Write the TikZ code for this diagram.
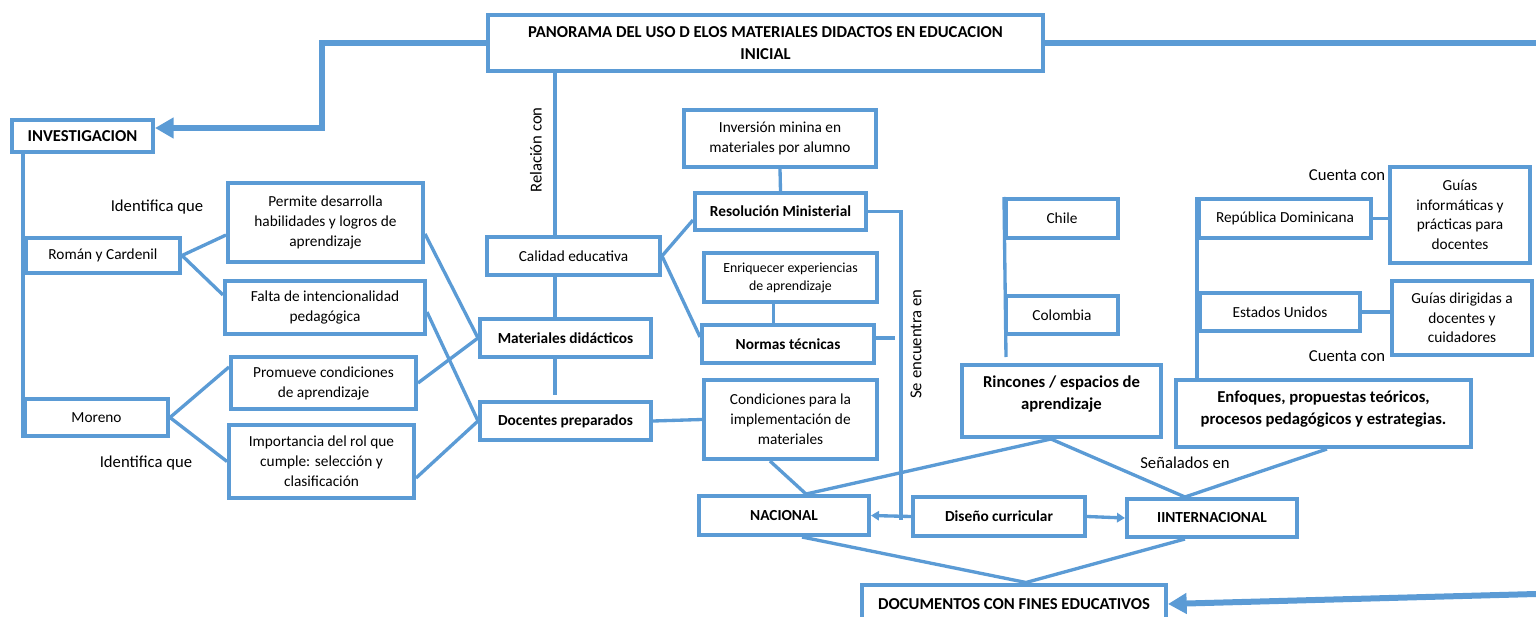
\documentclass[tikz,border=0pt]{standalone}
\usepackage{fontspec}
\setmainfont{Carlito}
\usepackage{tikz}
\usetikzlibrary{arrows.meta}
\definecolor{mapblue}{RGB}{91,155,213}
\tikzset{
    box/.style={draw=mapblue, line width=3pt, align=center, inner sep=1pt, font=\fontsize{11.5}{15}\selectfont},
    sz/.style 2 args={minimum width=#1*0.75pt, minimum height=#2*0.75pt},
    hd/.style={font=\fontsize{11.5}{15}\selectfont\bfseries},
    bighd/.style={font=\fontsize{12.5}{16.5}\selectfont\bfseries},
    sm/.style={font=\fontsize{11.5}{14.6}\selectfont},
    link/.style={draw=mapblue, line width=2.5pt},
    bigarrow/.style={draw=mapblue, line width=4.5pt, -{Triangle[length=14pt, width=15pt]}},
    smallarrow/.style={draw=mapblue, line width=2.5pt, -{Triangle[length=6pt, width=7pt]}},
    note/.style={font=\fontsize{12.5}{15}\selectfont, inner sep=0pt}
}

\begin{document}
\begin{tikzpicture}[x=0.75pt, y=-0.75pt]
\useasboundingbox (0,0) rectangle (1536,617);

% Title and main branches
\node[box, bighd, sz={555}{56}] (title) at (765.5,43) {PANORAMA DEL USO D ELOS MATERIALES DIDACTOS EN EDUCACION\\INICIAL};
\node[box, bighd, sz={141}{32}] (inv) at (82.5,136) {INVESTIGACION};
\node[box, bighd, sz={304}{39}] (docs) at (1014,604) {DOCUMENTOS CON FINES EDUCATIVOS};
\coordinate (topright) at (1536,43);
\coordinate (lowright) at (1536,594);
\draw[bigarrow] (title.west) -- (322,43) |- ([yshift=6pt]inv.east);
\draw[link, line width=4.5pt] (title.east) -- (title.east -| topright);
\draw[bigarrow] (lowright) -- (docs.east);

% Investigacion
\node[box, sz={154}{35}] (roman) at (103,255.5) {Román y Cardenil};
\node[box, sz={143}{37}] (moreno) at (96.5,417.5) {Moreno};
\node[box, sz={195}{79}] (permite) at (325.5,222.5) {Permite desarrolla\\habilidades y logros de\\aprendizaje};
\node[box, sz={200}{53}] (falta) at (325,307.5) {Falta de intencionalidad\\pedagógica};
\node[box, sz={185}{52}] (promueve) at (323.5,383) {Promueve condiciones\\de aprendizaje};
\node[box, sz={185}{73}] (importancia) at (321.5,461.5) {Importancia del rol que\\cumple: selección y\\clasificación};
\node[note] (idq1) at (157,207) {Identifica que};
\node[note] (idq2) at (146,463) {Identifica que};
\draw[link] (inv.south -| moreno.west) -- (moreno.south west);
\draw[link] (roman.east) -- ([yshift=-9.4pt]permite.west);
\draw[link] (roman.east) -- ([yshift=9.4pt]falta.west);
\draw[link] (moreno.east) -- ([yshift=12pt]promueve.west);
\draw[link] (moreno.east) -- (importancia.west);

% Centro
\node[box, sz={173}{38}] (calidad) at (573.5,256) {Calidad educativa};
\node[box, hd, sz={171}{38}] (materiales) at (565.5,338) {Materiales didácticos};
\node[box, hd, sz={171}{38}] (docentes) at (565.5,421) {Docentes preparados};
\node[note, rotate=90] (relacion) at (536,150) {Relación con};
\draw[link] ([xshift=-13.9pt]calidad.north) -- ([xshift=-13.9pt]calidad.north |- title.south);
\draw[link] ([xshift=-13.9pt]calidad.south) -- ([xshift=-13.9pt]calidad.south |- materiales.north);
\draw[link] ([xshift=-7.9pt]materiales.south) -- ([xshift=-7.9pt,yshift=3.5pt]docentes.north);
\draw[link] ([yshift=-8.6pt]permite.east) -- (materiales.west);
\draw[link] ([yshift=-3.4pt]falta.east) -- (docentes.west);
\draw[link] (promueve.east) -- (materiales.west);
\draw[link] ([yshift=-12.4pt]importancia.east) -- (docentes.west);

% Normativa
\node[box, sz={192}{57}] (inversion) at (780,138.5) {Inversión minina en\\materiales por alumno};
\node[box, hd, sz={171}{37}] (resolucion) at (780.5,211.5) {Resolución Ministerial};
\node[box, font=\fontsize{10.4}{13.5}\selectfont, sz={173}{49}] (enriquecer) at (790.5,277.5) {Enriquecer experiencias\\de aprendizaje};
\node[box, hd, sz={172}{38}] (normas) at (788,344) {Normas técnicas};
\node[box, sz={173}{79}] (condiciones) at (790.5,419.5) {Condiciones para la\\implementación de\\materiales};
\node[note, rotate=90] (seencuentra) at (916,344) {Se encuentra en};
\coordinate (stub) at (895,338);
\coordinate (seline) at (901,520);
\draw[link] (inversion.south) -- (resolucion.north);
\draw[link] (calidad.east) -- ([yshift=-6.4pt]resolucion.west);
\draw[link] (calidad.east) -- ([yshift=5.3pt]normas.west);
\draw[link] ([xshift=-13pt]enriquecer.south) -- ([xshift=-13pt]enriquecer.south |- normas.north);
\draw[link] ([yshift=4.5pt]normas.east) -- (stub);
\draw[link] (resolucion.east) -| (seline);
\draw[link] (docentes.east) -- (condiciones.west);

% Nacional / internacional
\node[box, hd, sz={170}{39}] (nacional) at (784,515.5) {NACIONAL};
\node[box, hd, sz={172}{39}] (diseno) at (999,516.5) {Diseño curricular};
\node[box, hd, sz={170}{38}] (internacional) at (1212,518) {IINTERNACIONAL};
\node[note] (senalados) at (1185,463) {Señalados en};
\draw[smallarrow] (diseno.west) -- (nacional.east);
\draw[smallarrow] (diseno.east) -- (internacional.west);
\draw[link] ([xshift=-15.4pt]condiciones.south) -- ([xshift=16.5pt]nacional.north);
\draw[link] ([xshift=13.5pt]nacional.south) -- ([xshift=9pt]docs.north);
\draw[link] ([xshift=-20.3pt]internacional.south) -- ([xshift=9pt]docs.north);

% Paises
\node[box, sz={112}{39}] (chile) at (1062,218.5) {Chile};
\node[box, sz={112}{38}] (colombia) at (1062,315) {Colombia};
\node[box, bighd, sz={199}{72}] (rincones) at (1061.5,401) {Rincones / espacios de\\aprendizaje\\[-4pt]\mbox{}};
\coordinate (chend) at (1006,357);
\draw[link] (chile.north west) -- (chend);
\draw[link] ([xshift=-7.9pt]rincones.south) -- ([xshift=16.5pt]nacional.north);
\draw[link] ([xshift=-7.9pt]rincones.south) -- ([xshift=-20.3pt]internacional.north);

\node[box, sz={172}{39}] (rd) at (1285,218.5) {República Dominicana};
\node[box, sz={160}{38}] (eu) at (1280,312) {Estados Unidos};
\node[box, sm, sz={140}{96}] (guias1) at (1460,215) {Guías\\informáticas y\\prácticas para\\docentes};
\node[box, sm, sz={140}{74}] (guias2) at (1462,318) {Guías dirigidas a\\docentes y\\cuidadores};
\node[box, bighd, sz={295}{67}] (enfoques) at (1323.5,413.5) {Enfoques, propuestas teóricos,\\procesos pedagógicos y estrategias.\\[-8pt]\mbox{}};
\node[note] (cuenta1) at (1347,175) {Cuenta con};
\node[note] (cuenta2) at (1347,356) {Cuenta con};
\draw[link] (rd.north west) -- (rd.north west |- enfoques.north);
\draw[link] (rd.east) -- (guias1.west |- rd.east);
\draw[link] (eu.east) -- (guias2.west |- eu.east);
\draw[link] ([xshift=2.6pt]enfoques.south) -- ([xshift=-20.3pt]internacional.north);
\end{tikzpicture}
\end{document}
